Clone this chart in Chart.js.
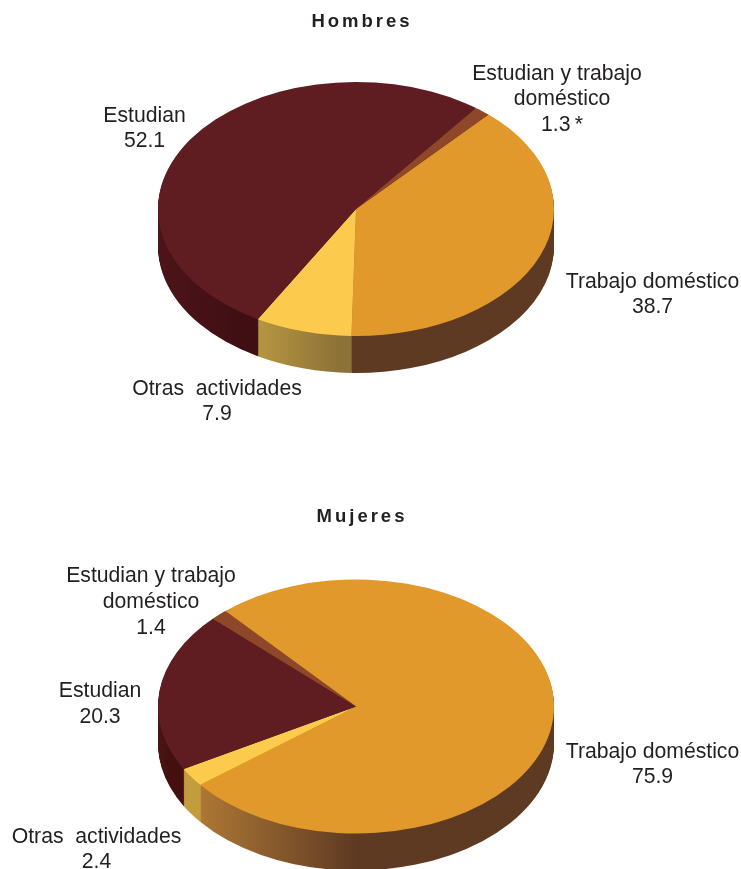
<!DOCTYPE html>
<html lang="es">
<head>
<meta charset="utf-8">
<title>Hombres y Mujeres</title>
<script src="https://cdn.jsdelivr.net/npm/chart.js@4"></script>
<style>
    html, body { margin: 0; padding: 0; background: #fff; overflow: hidden; }
    #page { position: relative; width: 741px; height: 869px; overflow: hidden; font-family: "Liberation Sans", Arial, sans-serif; color: #231f20; }
    canvas { position: absolute; left: 0; }
    .title { position: absolute; left: 262px; width: 200px; text-align: center; font-weight: bold; font-size: 18.5px; letter-spacing: 3px; line-height: 20px; }
    .label { position: absolute; width: 240px; text-align: center; font-size: 21.2px; line-height: 25.7px; white-space: nowrap; }
    .label span { position: relative; }
</style>
</head>
<body>
<div id="page">
    <canvas id="hombres" width="741" height="435" style="top:0"></canvas>
    <canvas id="mujeres" width="741" height="435" style="top:434px"></canvas>
</div>
<script>
// ========================== Data ==========================
const categories = ["Trabajo doméstico", "Otras actividades", "Estudian", "Estudian y trabajo doméstico"];
const categoryLines = [["Trabajo doméstico"], ["Otras\u00a0 actividades"], ["Estudian"], ["Estudian y trabajo", "doméstico"]];
const hombresValues = [38.7, 7.9, 52.1, 1.3];
const mujeresValues = [75.9, 2.4, 20.3, 1.4];
const hombresNotes = ["", "", "", "\u2009*"];
const mujeresNotes = ["", "", "", ""];

// ========================== Colours ==========================
const topColors = ["#e0992a", "#fccb4e", "#5f1d21", "#8e4829"];
const hombresWalls = [["#5f3a23", "#5f3a23"], ["#bf9d43", "#8d7237"], ["#4f151a", "#3f0f14"], ["#5a2a1c", "#5a2a1c"]];
const mujeresWalls = [["#b57e36", "#5f3a23"], ["#d3ab3e", "#c39c3b"], ["#5a1a1e", "#43100f"], ["#5a2a1c", "#5a2a1c"]];

// ========================== Layout ==========================
const pieX = 356, radius = 198, squash = 127 / 198, depth = 37;
const hombresLayout = { pieY: 209, rotation: 42, wallRanges: [[352, 554], [257, 352], [158, 257], [158, 554]] };
const mujeresLayout = { pieY: 272.5, rotation: 318.7, wallRanges: [[200, 370], [183, 200], [158, 183], [158, 554]] };

// ========================== Squashed pie with side wall ==========================
const pie3d = {
    id: "pie3d",
    beforeDatasetDraw(chart, args, opts) {
        const ctx = chart.ctx;
        const arcs = chart.getDatasetMeta(0).data;
        for (let d = depth; d >= 1; d--) {
            ctx.save();
            ctx.translate(pieX, opts.pieY + d);
            ctx.scale(1, squash);
            ctx.translate(-arcs[0].x, -arcs[0].y);
            arcs.forEach((arc, i) => {
                const grad = ctx.createLinearGradient(opts.wallRanges[i][0], 0, opts.wallRanges[i][1], 0);
                grad.addColorStop(0, opts.walls[i][0]);
                grad.addColorStop(1, opts.walls[i][1]);
                const original = arc.options;
                arc.options = Object.create(original);
                arc.options.backgroundColor = grad;
                arc.draw(ctx);
                arc.options = original;
            });
            ctx.restore();
        }
        ctx.save();
        ctx.translate(pieX, opts.pieY);
        ctx.scale(1, squash);
        ctx.translate(-arcs[0].x, -arcs[0].y);
    },
    afterDatasetDraw(chart) {
        chart.ctx.restore();
    }
};

function drawPie(id, values, walls, layout) {
    new Chart(document.getElementById(id), {
        type: "pie",
        data: {
            labels: categories,
            datasets: [{ data: values, backgroundColor: topColors, borderWidth: 0, radius: radius, clip: false }]
        },
        options: {
            responsive: false,
            animation: false,
            rotation: layout.rotation,
            events: [],
            plugins: {
                legend: { display: false },
                tooltip: { enabled: false },
                pie3d: { pieY: layout.pieY, walls: walls, wallRanges: layout.wallRanges }
            }
        },
        plugins: [pie3d]
    });
}

drawPie("hombres", hombresValues, hombresWalls, hombresLayout);
drawPie("mujeres", mujeresValues, mujeresWalls, mujeresLayout);

// ========================== Titles and labels ==========================
const page = document.getElementById("page");

function addTitle(text, top) {
    const el = document.createElement("div");
    el.className = "title";
    el.style.top = top + "px";
    el.textContent = text;
    page.appendChild(el);
}

// x = centre of the block, y = centre of its first line, shift = nudge of the first line
function addLabels(values, notes, positions) {
    categoryLines.forEach((lines, i) => {
        const el = document.createElement("div");
        el.className = "label";
        el.style.left = (positions[i][0] - 120) + "px";
        el.style.top = (positions[i][1] - 12.85) + "px";
        const shift = positions[i][2] || 0;
        const first = `<span style="left:${shift}px">${lines[0]}</span>`;
        el.innerHTML = [first].concat(lines.slice(1), values[i].toFixed(1) + notes[i]).join("<br>");
        page.appendChild(el);
    });
}

addTitle("Hombres", 11);
addTitle("Mujeres", 506);
addLabels(hombresValues, hombresNotes, [[652.5, 280.5], [217, 387.5], [144.5, 114.5], [562, 72.5, -5]]);
addLabels(mujeresValues, mujeresNotes, [[652.5, 750.5], [96.5, 835.5], [100, 690], [151, 575]]);
</script>
</body>
</html>
